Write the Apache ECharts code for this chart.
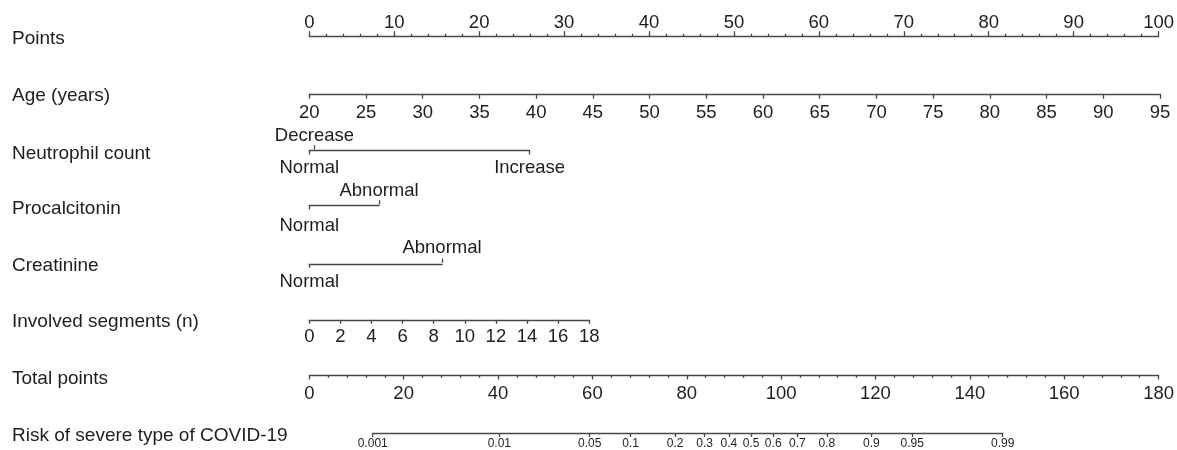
<!DOCTYPE html>
<html>
<head>
<meta charset="utf-8">
<script src="https://cdn.jsdelivr.net/npm/echarts@6/dist/echarts.min.js"></script>
<style>html,body{margin:0;padding:0;background:#fff}#chart{width:1177px;height:450px}</style>
</head>
<body>
<div id="chart"></div>
<script>
// ---------------- data ----------------
const rowTitles = ['Points', 'Age (years)', 'Neutrophil count', 'Procalcitonin', 'Creatinine',
  'Involved segments (n)', 'Total points', 'Risk of severe type of COVID-19'];

const pointsRange = [0, 100];          // points scale, tick every 10, minor every 2
const pointsInterval = 10;

const ageRange = [20, 95];             // years
const ageInterval = 5;
const agePointsAtMax = 100;            // points awarded at age 95

const neutroLevels = ['Normal', 'Decrease', 'Increase'];
const neutroPoints = [0, 0.6, 25.9];
const neutroAbove = [false, true, false];

const pctLevels = ['Normal', 'Abnormal'];
const pctPoints = [0, 8.2];
const pctAbove = [false, true];

const creaLevels = ['Normal', 'Abnormal'];
const creaPoints = [0, 15.6];
const creaAbove = [false, true];

const segRange = [0, 18];
const segInterval = 2;
const segPointsAtMax = 32.9;           // points awarded at 18 segments

const totalRange = [0, 180];
const totalInterval = 20;

const riskTicks = [0.001, 0.01, 0.05, 0.1, 0.2, 0.3, 0.4, 0.5, 0.6, 0.7, 0.8, 0.9, 0.95, 0.99];
const riskTotalAtLogit0 = 93.46;       // total points where risk = 0.5
const riskTotalPerLogit = 11.589;      // total points per unit of logit

// ---------------- layout ----------------
const FONT = '"Liberation Sans", Arial, Helvetica, sans-serif';
const TXT = '#1e1e1e';
const LINE = {color: '#474747', width: 1.3};
const LABEL_SIZE = 18.5;
const TITLE_SIZE = 19;
const SCALE_LEFT = 309.3, SCALE_RIGHT = 1160;
const pxPerPoint = (SCALE_RIGHT - SCALE_LEFT) / (pointsRange[1] - pointsRange[0]);
const pxPerTotal = (SCALE_RIGHT - SCALE_LEFT) / (totalRange[1] - totalRange[0]);
const rowLineY = [36.7, 93.3, 150, 205, 263.3, 319.3, 375, 432.7];
const titleY = [39, 96, 153.5, 209, 266, 322, 379, 435.5];

const logit = p => Math.log(p / (1 - p));

const grids = [], xAxes = [], yAxes = [];
function addGrid(lineY, left, width) {
  grids.push({left: left, top: lineY - 0.5, width: width, height: 1});
  const gi = grids.length - 1;
  yAxes.push({gridIndex: gi, type: 'value', show: false, min: 0, max: 1});
  return gi;
}
function baseAxis(gi, position, min, max) {
  return {
    gridIndex: gi, type: 'value', position: position, min: min, max: max,
    axisLine: {show: true, onZero: false, lineStyle: LINE},
    axisTick: {show: true, length: 4.5, lineStyle: LINE},
    minorTick: {show: false},
    splitLine: {show: false}, minorSplitLine: {show: false},
    axisLabel: {show: true, color: TXT, fontSize: LABEL_SIZE, fontFamily: FONT, margin: 6,
      showMinLabel: true, showMaxLabel: true},
    axisPointer: {show: false}
  };
}
function contRow(rowIdx, min, max, interval, widthPx, opts) {
  const gi = addGrid(rowLineY[rowIdx], SCALE_LEFT, widthPx);
  const ax = baseAxis(gi, opts.position || 'bottom', min, max);
  ax.interval = interval;
  ax.axisTick.length = opts.tickLen || 4.5;
  ax.axisLabel.margin = opts.margin;
  if (opts.minor) ax.minorTick = {show: true, splitNumber: opts.minor, length: opts.minorLen, lineStyle: LINE};
  xAxes.push(ax);
}
function catRow(rowIdx, levels, pts, above, marginBelow, marginAbove) {
  const maxPts = Math.max.apply(null, pts);
  const gi = addGrid(rowLineY[rowIdx], SCALE_LEFT, maxPts * pxPerPoint);
  const fmt = v => { let best = 0; pts.forEach((p, i) => { if (Math.abs(p - v) < Math.abs(pts[best] - v)) best = i; }); return levels[best]; };
  const belowVals = pts.filter((p, i) => !above[i]);
  const aboveVals = pts.filter((p, i) => above[i]);
  const bottom = baseAxis(gi, 'bottom', 0, maxPts);
  bottom.axisTick.customValues = belowVals;
  bottom.axisTick.length = 4;
  bottom.axisLabel.customValues = belowVals;
  bottom.axisLabel.formatter = fmt;
  bottom.axisLabel.margin = marginBelow;
  xAxes.push(bottom);
  const top = baseAxis(gi, 'top', 0, maxPts);
  top.axisLine.show = false;
  top.axisTick.customValues = aboveVals;
  top.axisTick.length = 4.3;
  top.axisLabel.customValues = aboveVals;
  top.axisLabel.formatter = fmt;
  top.axisLabel.margin = marginAbove;
  xAxes.push(top);
}

// Points
contRow(0, pointsRange[0], pointsRange[1], pointsInterval, (pointsRange[1] - pointsRange[0]) * pxPerPoint,
  {position: 'top', tickLen: 5, margin: 3.5, minor: 5, minorLen: 2.5});
// Age
contRow(1, ageRange[0], ageRange[1], ageInterval, agePointsAtMax * pxPerPoint, {tickLen: 5, margin: 9.5});
// Categorical rows
catRow(2, neutroLevels, neutroPoints, neutroAbove, 7.5, 4.3);
catRow(3, pctLevels, pctPoints, pctAbove, 11, 4.3);
catRow(4, creaLevels, creaPoints, creaAbove, 8.5, 5.3);
// Involved segments
contRow(5, segRange[0], segRange[1], segInterval, segPointsAtMax * pxPerPoint, {tickLen: 4, margin: 7.5});
// Total points
contRow(6, totalRange[0], totalRange[1], totalInterval, (totalRange[1] - totalRange[0]) * pxPerTotal,
  {tickLen: 4, margin: 8.5, minor: 5, minorLen: 2.3});
// Risk
(function () {
  const lo = logit(riskTicks[0]), hi = logit(riskTicks[riskTicks.length - 1]);
  const left = SCALE_LEFT + (riskTotalAtLogit0 + riskTotalPerLogit * lo) * pxPerTotal;
  const width = riskTotalPerLogit * (hi - lo) * pxPerTotal;
  const gi = addGrid(rowLineY[7], left, width);
  const ax = baseAxis(gi, 'bottom', lo, hi);
  const vals = riskTicks.map(logit);
  ax.axisTick.customValues = vals;
  ax.axisTick.length = 4;
  ax.axisLabel.customValues = vals;
  ax.axisLabel.fontSize = 12;
  ax.axisLabel.margin = 5;
  ax.axisLabel.formatter = v => { let best = 0; vals.forEach((x, i) => { if (Math.abs(x - v) < Math.abs(vals[best] - v)) best = i; }); return String(riskTicks[best]); };
  xAxes.push(ax);
})();

const graphics = rowTitles.map((t, i) => ({
  type: 'text', x: 12, y: titleY[i], silent: true,
  style: {text: t, fill: TXT, font: TITLE_SIZE + 'px ' + FONT, verticalAlign: 'middle', align: 'left'}
}));

const chart = echarts.init(document.getElementById('chart'), null, {renderer: 'canvas'});
chart.setOption({
  animation: false,
  backgroundColor: '#fff',
  grid: grids,
  xAxis: xAxes,
  yAxis: yAxes,
  graphic: graphics,
  series: []
});
</script>
</body>
</html>
